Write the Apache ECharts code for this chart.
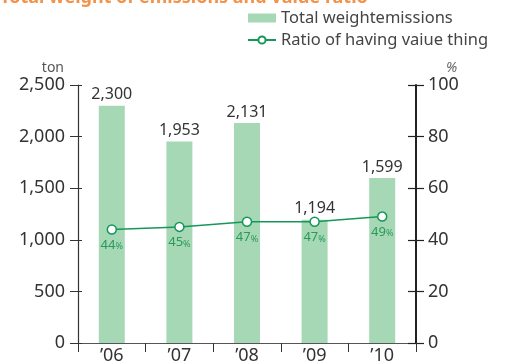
<!DOCTYPE html>
<html>
<head>
<meta charset="utf-8">
<script src="https://cdn.jsdelivr.net/npm/echarts@6/dist/echarts.min.js"></script>
<style>
  html, body { margin: 0; padding: 0; background: #fff; }
  #chart { width: 505px; height: 362px; }
</style>
</head>
<body>
<div id="chart"></div>
<script>
// Fiscal years on the category axis
const years = ['\u201906', '\u201907', '\u201908', '\u201909', '\u201910'];
// Total weight of emissions (ton)
const emissions = [2300, 1953, 2131, 1194, 1599];
// Share of items with value (%)
const valueRatio = [44, 45, 47, 47, 49];
// Axis ranges
const tonAxis = { min: 0, max: 2500, interval: 500 };
const pctAxis = { min: 0, max: 100, interval: 20 };

const FONT = '"Noto Sans", sans-serif';
const BAR = '#a6d8b6';
const GREEN = '#16975a';
const TEXT = '#333';

const chart = echarts.init(document.getElementById('chart'), null, { renderer: 'canvas' });

// Extra axis that only draws inward ticks, so the ticks cross the axis line
function tickOnly(pos, range, len, width, color) {
  return {
    type: 'value', position: pos, min: range.min, max: range.max, interval: range.interval,
    axisLine: { show: false },
    axisTick: { show: true, inside: true, length: len, lineStyle: { color: color, width: width } },
    axisLabel: { show: false }, splitLine: { show: false }
  };
}

chart.setOption({
  animation: false,
  textStyle: { fontFamily: FONT },
  // Heading runs off the top edge of the canvas
  graphic: [{
    type: 'text', x: 0, y: 7, silent: true,
    style: {
      text: 'Total weight of emissions and value ratio',
      fill: '#f3924a', font: 'bold 18px "Noto Sans", sans-serif',
      verticalAlign: 'bottom', align: 'left'
    }
  }],
  legend: {
    orient: 'vertical', left: 247, top: 9, itemGap: 4, padding: 0,
    itemWidth: 28, itemHeight: 9,
    textStyle: { color: '#444', fontSize: 16.5, fontFamily: FONT, lineHeight: 18 },
    data: [
      { name: 'Total weightemissions', icon: 'rect' },
      { name: 'Ratio of having vaiue thing' }
    ]
  },
  grid: { left: 78, right: 89, top: 85, bottom: 19, containLabel: false, outerBoundsMode: 'none' },
  xAxis: {
    type: 'category', data: years, boundaryGap: true,
    axisLine: { lineStyle: { color: '#555', width: 1 } },
    axisTick: { show: true, length: 9, lineStyle: { color: '#333' } },
    axisLabel: { color: TEXT, fontSize: 18, margin: 4, fontFamily: FONT }
  },
  yAxis: [
    {
      type: 'value', position: 'left', min: tonAxis.min, max: tonAxis.max, interval: tonAxis.interval,
      name: 'ton', nameLocation: 'end', nameGap: 10,
      nameTextStyle: { color: '#555', fontSize: 14, align: 'right', padding: [0, 14, 0, 0] },
      axisLine: { show: true, lineStyle: { color: '#333', width: 1.2 } },
      axisTick: { show: true, length: 8, lineStyle: { color: '#333' } },
      axisLabel: {
        color: TEXT, fontSize: 18, margin: 13, fontFamily: FONT,
        formatter: v => v.toLocaleString('en-US')
      },
      splitLine: { show: false }
    },
    {
      type: 'value', position: 'right', min: pctAxis.min, max: pctAxis.max, interval: pctAxis.interval,
      name: '%', nameLocation: 'end', nameGap: 10,
      nameTextStyle: { color: '#666', fontSize: 14, fontStyle: 'italic', align: 'left', padding: [0, 0, 0, 30] },
      axisLine: { show: true, lineStyle: { color: '#222', width: 2 } },
      axisTick: { show: true, length: 8, lineStyle: { color: '#222', width: 1.2 } },
      axisLabel: { color: TEXT, fontSize: 18, margin: 12, fontFamily: FONT },
      splitLine: { show: false }
    },
    tickOnly('left', tonAxis, 4, 1, '#333'),
    tickOnly('right', pctAxis, 8, 1.2, '#222')
  ],
  series: [
    {
      name: 'Total weightemissions', type: 'bar', yAxisIndex: 0,
      data: emissions, barWidth: 26,
      itemStyle: { color: BAR },
      label: {
        show: true, position: 'top', distance: 3,
        color: TEXT, fontSize: 16, fontFamily: FONT,
        formatter: p => p.value.toLocaleString('en-US')
      },
      z: 2
    },
    {
      name: 'Ratio of having vaiue thing', type: 'line', yAxisIndex: 1,
      data: valueRatio,
      symbol: 'circle', symbolSize: 9,
      lineStyle: { color: GREEN, width: 1.5 },
      itemStyle: { color: '#fff', borderColor: GREEN, borderWidth: 1.5 },
      label: {
        show: true, position: 'bottom', distance: 4,
        formatter: p => '{n|' + p.value + '}{u|%}',
        rich: {
          n: { color: '#2a9a58', fontSize: 13, fontFamily: FONT },
          u: { color: '#2a9a58', fontSize: 9, fontFamily: FONT, padding: [3, 0, 0, 0] }
        }
      },
      z: 5
    }
  ]
});
</script>
</body>
</html>
